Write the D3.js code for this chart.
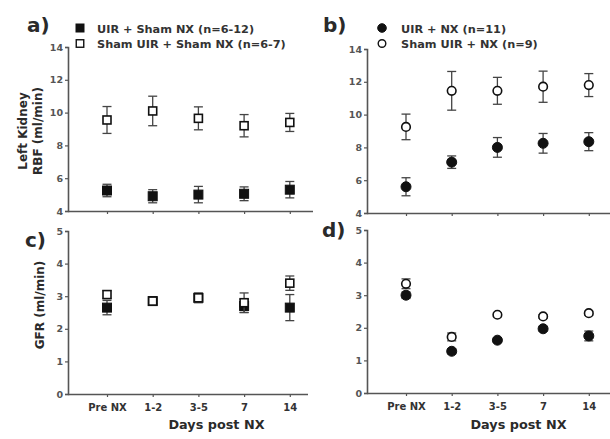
<!DOCTYPE html>
<html><head><meta charset="utf-8">
<script src="https://cdn.jsdelivr.net/npm/d3@7"></script>
<style>body{margin:0;background:#fff}svg{display:block;font-family:"DejaVu Sans",Arial,sans-serif}</style>
</head><body><svg id="c" width="610" height="439"></svg>
<script>
const categories = ["Pre NX","1-2","3-5","7","14"];
// Panel a: RBF, sham NX
const aFilledMean = [5.25, 4.9, 5.0, 5.05, 5.3];
const aFilledErr  = [0.38, 0.4, 0.5, 0.42, 0.5];
const aOpenMean   = [9.55, 10.1, 9.65, 9.2, 9.4];
const aOpenErr    = [0.82, 0.9, 0.7, 0.68, 0.55];
// Panel b: RBF, NX
const bFilledMean = [5.6, 7.1, 8.0, 8.25, 8.35];
const bFilledErr  = [0.55, 0.38, 0.6, 0.6, 0.55];
const bOpenMean   = [9.25, 11.45, 11.45, 11.7, 11.8];
const bOpenErr    = [0.78, 1.18, 0.82, 0.95, 0.7];
// Panel c: GFR, sham NX
const cFilledMean = [2.65, 2.85, 2.95, 2.7, 2.65];
const cFilledErr  = [0.22, 0.08, 0.12, 0.2, 0.4];
const cOpenMean   = [3.05, 2.85, 2.95, 2.8, 3.4];
const cOpenErr    = [0.12, 0.08, 0.15, 0.3, 0.22];
// Panel d: GFR, NX
const dFilledMean = [3.0, 1.28, 1.62, 1.97, 1.75];
const dFilledErr  = [0.1, 0.08, 0.07, 0.07, 0.15];
const dOpenMean   = [3.35, 1.72, 2.4, 2.35, 2.45];
const dOpenErr    = [0.15, 0.12, 0.06, 0.05, 0.06];
const rbfTicks = [4,6,8,10,12,14];
const gfrTicks = [0,1,2,3,4,5];

const svg = d3.select("#c");
const axisCol = "#555", textCol = "#2a2a2a";

function panel(o){
  const g = svg.append("g");
  const x = d3.scalePoint().domain(categories).range([o.x0+39, o.x0+39+4*45.7]);
  const y = d3.scaleLinear().domain(o.domain).range([o.bottom, o.top]);
  const ya = g.append("g").attr("transform",`translate(${o.x0},0)`)
    .call(d3.axisLeft(y).tickValues(o.ticks).tickSize(3).tickPadding(2).tickFormat(d3.format("d")));
  const xa = g.append("g").attr("transform",`translate(0,${o.bottom})`)
    .call(d3.axisBottom(x).tickSize(3).tickPadding(7).tickFormat(o.showX ? (d=>d) : ""));
  xa.select(".domain").attr("d",`M${o.x0},0.5H${o.xEnd}`);
  [ya,xa].forEach(a=>{
    a.select(".domain").attr("stroke",axisCol).attr("stroke-width",1.6);
    a.selectAll(".tick line").attr("stroke",axisCol).attr("stroke-width",1.2);
    a.selectAll(".tick text").attr("font-weight","bold").attr("font-family","DejaVu Sans");
  });
  xa.selectAll(".tick text").attr("font-size",10).attr("fill","#333");
  ya.selectAll(".tick text").attr("font-size",9.5).attr("fill","#555");

  const series = [
    {m:o.filled, e:o.fErr, open:false},
    {m:o.open, e:o.oErr, open:true}
  ];
  series.forEach(s=>{
    const sg = g.append("g");
    categories.forEach((c,i)=>{
      const cx = x(c), lo = y(s.m[i]-s.e[i]), hi = y(s.m[i]+s.e[i]);
      sg.append("line").attr("x1",cx).attr("x2",cx).attr("y1",lo).attr("y2",hi).attr("stroke","#444").attr("stroke-width",1.3);
      [lo,hi].forEach(yy=>sg.append("line").attr("x1",cx-4.5).attr("x2",cx+4.5).attr("y1",yy).attr("y2",yy).attr("stroke","#444").attr("stroke-width",1.3));
    });
    categories.forEach((c,i)=>{
      const cx = x(c), cy = y(s.m[i]);
      if(o.shape==="square"){
        const sz = s.open?8:9;
        sg.append("rect").attr("x",cx-sz/2).attr("y",cy-sz/2).attr("width",sz).attr("height",sz)
          .attr("fill",s.open?"#fff":"#111").attr("stroke","#111").attr("stroke-width",s.open?1.6:1);
      } else {
        sg.append("circle").attr("cx",cx).attr("cy",cy).attr("r",s.open?4.3:5)
          .attr("fill",s.open?"#fff":"#111").attr("stroke","#111").attr("stroke-width",s.open?1.6:1);
      }
    });
  });
  svg.append("text").attr("x",o.lx).attr("y",o.ly).text(o.label)
    .attr("font-size",20).attr("font-weight","bold").attr("fill",textCol);
  if(o.legend){
    o.legend.forEach((t,i)=>{
      const ly = o.legY + i*15.5;
      if(o.shape==="square"){
        const sz = i===0?8:7.5;
        svg.append("rect").attr("x",o.legX-sz/2).attr("y",ly-sz/2).attr("width",sz).attr("height",sz)
          .attr("fill",i===0?"#111":"#fff").attr("stroke","#111").attr("stroke-width",i===0?1:1.4);
      } else {
        svg.append("circle").attr("cx",o.legX).attr("cy",ly).attr("r",i===0?4.3:3.8)
          .attr("fill",i===0?"#111":"#fff").attr("stroke","#111").attr("stroke-width",i===0?1:1.4);
      }
      svg.append("text").attr("x",o.legTx).attr("y",ly+4.5).text(t)
        .attr("font-size",11.3).attr("font-weight","bold").attr("fill","#333");
    });
  }
  if(o.showX){
    svg.append("text").attr("x",o.tx).attr("y",429).attr("text-anchor","middle")
      .text("Days post NX").attr("font-size",12.8).attr("font-weight","bold").attr("fill",textCol);
  }
}

panel({x0:68, xEnd:313, top:47, bottom:211, domain:[4,14], ticks:rbfTicks, filled:aFilledMean, fErr:aFilledErr, open:aOpenMean, oErr:aOpenErr,
  shape:"square", label:"a)", lx:27, ly:32, legend:["UIR + Sham NX (n=6-12)","Sham UIR + Sham NX (n=6-7)"], legX:80, legTx:97, legY:28, showX:false});
panel({x0:367, xEnd:610, top:49, bottom:213, domain:[4,14], ticks:rbfTicks, filled:bFilledMean, fErr:bFilledErr, open:bOpenMean, oErr:bOpenErr,
  shape:"circle", label:"b)", lx:323, ly:32, legend:["UIR + NX (n=11)","Sham UIR + NX (n=9)"], legX:382, legTx:401, legY:28, showX:false});
panel({x0:68, xEnd:308, top:231, bottom:394, domain:[0,5], ticks:gfrTicks, filled:cFilledMean, fErr:cFilledErr, open:cOpenMean, oErr:cOpenErr,
  shape:"square", label:"c)", lx:25, ly:247, showX:true, tx:216.5});
panel({x0:367, xEnd:610, top:230, bottom:393, domain:[0,5], ticks:gfrTicks, filled:dFilledMean, fErr:dFilledErr, open:dOpenMean, oErr:dOpenErr,
  shape:"circle", label:"d)", lx:322, ly:237, showX:true, tx:518.5});

const t1 = svg.append("text").attr("transform","translate(27,131) rotate(-90)").attr("text-anchor","middle")
  .attr("font-size",12).attr("font-weight","bold").attr("fill",textCol);
t1.append("tspan").attr("x",0).attr("dy",0).text("Left Kidney");
t1.append("tspan").attr("x",0).attr("dy",15).text("RBF (ml/min)");
svg.append("text").attr("transform","translate(44,305) rotate(-90)").attr("text-anchor","middle")
  .attr("font-size",12).attr("font-weight","bold").attr("fill",textCol).text("GFR (ml/min)");
</script></body></html>
